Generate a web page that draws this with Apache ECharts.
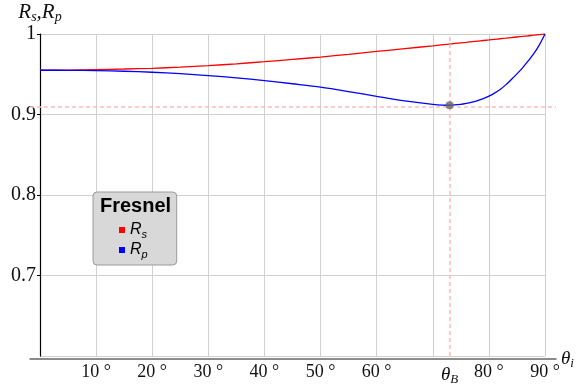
<!DOCTYPE html>
<html><head><meta charset="utf-8">
<script src="https://cdn.jsdelivr.net/npm/echarts@6/dist/echarts.min.js"></script>
<style>html,body{margin:0;padding:0;background:#fff}#c{width:582px;height:386px}</style>
</head><body><div id="c"></div>
<script>
const angles   = [0, 5, 10, 15, 20, 25, 30, 35, 40, 45, 50, 55, 60, 65, 70, 73, 75, 76, 77, 78, 79, 80, 81, 82, 83, 84, 85, 86, 87, 88, 89, 90];
const rsValues = [0.955, 0.9552, 0.9558, 0.9565, 0.9574, 0.9589, 0.9607, 0.963, 0.9656, 0.9684, 0.9714, 0.9748, 0.9783, 0.9818, 0.9853, 0.9875, 0.989, 0.9897, 0.9905, 0.9912, 0.9919, 0.9926, 0.9934, 0.9941, 0.9948, 0.9956, 0.9963, 0.997, 0.9978, 0.9985, 0.9993, 1.0];
const rpValues = [0.955, 0.9549, 0.9546, 0.9537, 0.9525, 0.9507, 0.9484, 0.9455, 0.9422, 0.9382, 0.934, 0.9285, 0.9225, 0.9168, 0.9127, 0.9115, 0.9125, 0.9137, 0.9153, 0.9172, 0.9197, 0.9228, 0.9266, 0.931, 0.9368, 0.9435, 0.9505, 0.958, 0.9665, 0.9755, 0.9865, 1.0];
const xTickValues = [10, 20, 30, 40, 50, 60, 80, 90];
const yTickValues = [0.7, 0.8, 0.9, 1];
const brewsterAngle = 73;
const brewsterR = 0.9115;
const seriesNames = ['Rs', 'Rp'];
const legendTitle = 'Fresnel';

const serif = 'Liberation Serif';
const sans = 'Liberation Sans';
const gridColor = '#d0d0d0';
const pink = '#ffbcbc';

const rsData = angles.map((a, i) => [a, rsValues[i]]);
const rpData = angles.map((a, i) => [a, rpValues[i]]);

const subRich = (big, small, lh) => ({
  t: { fontFamily: serif, fontStyle: 'italic', fontSize: big, lineHeight: lh, color: '#111' },
  s: { fontFamily: serif, fontStyle: 'italic', fontSize: small, lineHeight: small, verticalAlign: 'bottom', color: '#111' }
});

const guideLine = {
  silent: true, symbol: 'none', label: { show: false },
  itemStyle: { color: pink },
  lineStyle: { color: pink, type: [4, 3], width: 1.6, opacity: 1 },
  emphasis: { disabled: true }
};

const chart = echarts.init(document.getElementById('c'));
chart.setOption({
  animation: false,
  backgroundColor: '#fff',
  title: {
    text: legendTitle, left: 100, top: 196, padding: 0, z: 10,
    textStyle: { fontFamily: sans, fontSize: 20, fontWeight: 'bold', color: '#000' }
  },
  legend: {
    data: seriesNames,
    orient: 'vertical',
    left: 93, top: 192,
    padding: [30, 29, 5, 26],
    backgroundColor: '#d8d8d8',
    borderColor: '#9a9a9a', borderWidth: 1, borderRadius: 4,
    icon: 'rect', itemWidth: 6, itemHeight: 6, itemGap: 2,
    selectedMode: false,
    formatter: n => n === 'Rs' ? '{r|R}{s|s}' : '{r|R}{s|p}',
    textStyle: {
      rich: {
        r: { fontFamily: sans, fontStyle: 'italic', fontSize: 16, lineHeight: 20, color: '#000' },
        s: { fontFamily: sans, fontStyle: 'italic', fontSize: 11, lineHeight: 11, verticalAlign: 'bottom', color: '#000' }
      }
    }
  },
  grid: [
    { left: 40, right: 37, top: 34, bottom: 27 },
    { left: 30, right: 26, top: 34, bottom: 27 }
  ],
  xAxis: [
    {
      gridIndex: 0, type: 'value', min: 0, max: 90, interval: 10, position: 'bottom',
      axisLine: { show: false }, axisTick: { show: false },
      splitLine: { show: true, lineStyle: { color: gridColor, width: 1 } },
      axisLabel: {
        showMinLabel: false, margin: 7,
        fontFamily: serif, fontSize: 18, color: '#111',
        formatter: v => xTickValues.includes(v) ? v + ' °' : ''
      }
    },
    {
      gridIndex: 1, type: 'value', min: 0, max: 1, position: 'bottom',
      axisLine: { show: true, lineStyle: { color: '#666', width: 1.5 } },
      axisTick: { show: false }, axisLabel: { show: false }, splitLine: { show: false },
      name: '{t|θ}{s|i}', nameLocation: 'end', nameGap: 5,
      nameTextStyle: { rich: subRich(19, 13, 23) }
    },
    {
      gridIndex: 0, type: 'value', min: 0, max: 90, position: 'bottom', offset: 0,
      axisLine: { show: false }, axisTick: { show: false }, splitLine: { show: false },
      axisLabel: {
        customValues: [brewsterAngle], margin: 7,
        formatter: () => '{t|θ}{s|B}',
        rich: subRich(19, 13, 23)
      }
    }
  ],
  yAxis: [
    {
      gridIndex: 0, type: 'value', min: 0.6, max: 1, interval: 0.1,
      axisLine: { show: true, onZero: false, lineStyle: { color: '#000', width: 1.2 } },
      axisTick: { show: true, length: 3, lineStyle: { color: '#000' } },
      splitLine: { show: true, lineStyle: { color: gridColor, width: 1 } },
      axisLabel: {
        showMinLabel: false, margin: 4,
        fontFamily: serif, fontSize: 20, color: '#111',
        formatter: v => {
          const m = yTickValues.find(t => Math.abs(t - v) < 1e-9);
          if (m === undefined) return '';
          return m === 1 ? '1' : m.toFixed(1);
        }
      },
      name: '{t|R}{s|s}{t|,R}{s|p}', nameLocation: 'end', nameGap: 8,
      nameTextStyle: { rich: subRich(21, 14, 24) }
    },
    { gridIndex: 1, type: 'value', min: 0.6, max: 1, show: false }
  ],
  series: [
    {
      name: 'guideV', type: 'line', xAxisIndex: 0, yAxisIndex: 0, data: [],
      color: pink, z: 1,
      markLine: Object.assign({ data: [{ xAxis: brewsterAngle }] }, guideLine)
    },
    {
      name: 'guideH', type: 'line', xAxisIndex: 1, yAxisIndex: 1, data: [],
      color: pink, z: 1,
      markLine: Object.assign({ data: [{ yAxis: brewsterR }] }, guideLine)
    },
    {
      name: 'Rs', type: 'line', xAxisIndex: 0, yAxisIndex: 0, data: rsData,
      showSymbol: false, smooth: 0.3, color: '#ff0000',
      lineStyle: { color: '#ff0000', width: 1.3 }
    },
    {
      name: 'Rp', type: 'line', xAxisIndex: 0, yAxisIndex: 0, data: rpData,
      showSymbol: false, smooth: 0.3, color: '#0000ff',
      lineStyle: { color: '#0000ff', width: 1.3 }
    },
    {
      name: 'min', type: 'scatter', xAxisIndex: 0, yAxisIndex: 0,
      data: [[brewsterAngle, brewsterR]], symbolSize: 8,
      itemStyle: { color: '#666' }, z: 5
    }
  ]
});
</script></body></html>
